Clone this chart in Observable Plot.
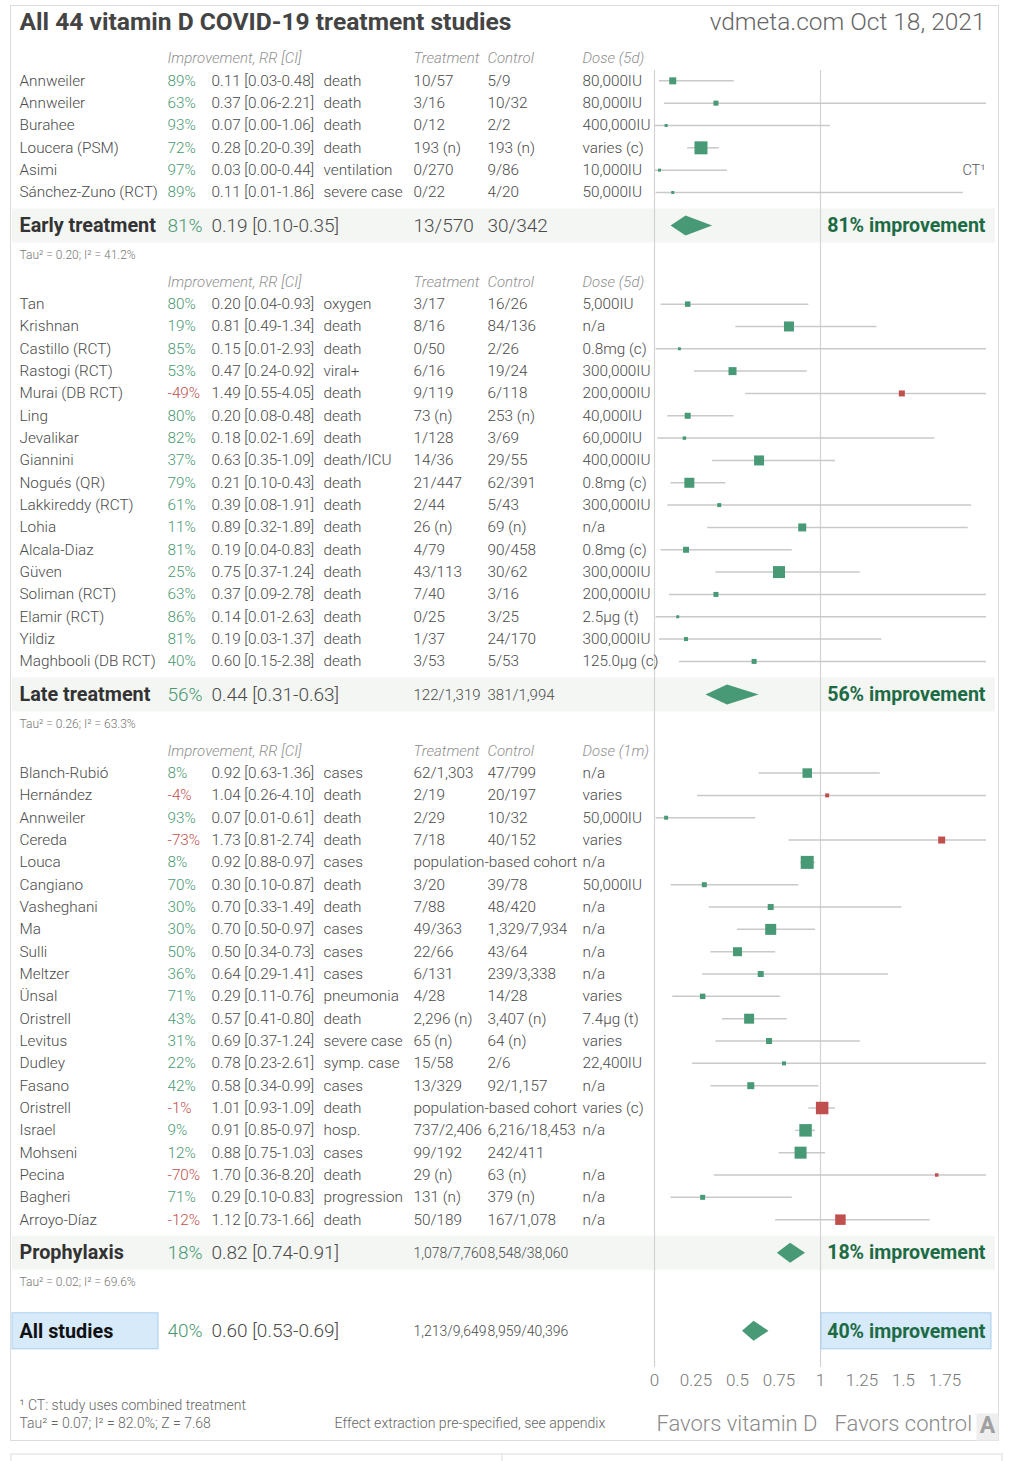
<!DOCTYPE html>
<html>
<head>
<meta charset="utf-8">
<script src="https://cdn.jsdelivr.net/npm/d3@7"></script>
<script src="https://cdn.jsdelivr.net/npm/@observablehq/plot@0.6"></script>
<style>
  body { margin: 0; background: #fff; }
  #chart svg { display: block; }
</style>
</head>
<body>
<div id="chart"></div>
<script>
// ---------------- DATA ----------------
const studies = ["Annweiler","Annweiler","Burahee","Loucera (PSM)","Asimi","Sánchez-Zuno (RCT)",
  "Tan","Krishnan","Castillo (RCT)","Rastogi (RCT)","Murai (DB RCT)","Ling","Jevalikar","Giannini","Nogués (QR)","Lakkireddy (RCT)","Lohia","Alcala-Diaz","Güven","Soliman (RCT)","Elamir (RCT)","Yildiz","Maghbooli (DB RCT)",
  "Blanch-Rubió","Hernández","Annweiler","Cereda","Louca","Cangiano","Vasheghani","Ma","Sulli","Meltzer","Ünsal","Oristrell","Levitus","Dudley","Fasano","Oristrell","Israel","Mohseni","Pecina","Bagheri","Arroyo-Díaz"];
const stage = ["E","E","E","E","E","E",
  "L","L","L","L","L","L","L","L","L","L","L","L","L","L","L","L","L",
  "P","P","P","P","P","P","P","P","P","P","P","P","P","P","P","P","P","P","P","P","P"];
const rr = [0.11,0.37,0.07,0.28,0.03,0.11,
  0.20,0.81,0.15,0.47,1.49,0.20,0.18,0.63,0.21,0.39,0.89,0.19,0.75,0.37,0.14,0.19,0.60,
  0.92,1.04,0.07,1.73,0.92,0.30,0.70,0.70,0.50,0.64,0.29,0.57,0.69,0.78,0.58,1.01,0.91,0.88,1.70,0.29,1.12];
const ciLow = [0.03,0.06,0.00,0.20,0.00,0.01,
  0.04,0.49,0.01,0.24,0.55,0.08,0.02,0.35,0.10,0.08,0.32,0.04,0.37,0.09,0.01,0.03,0.15,
  0.63,0.26,0.01,0.81,0.88,0.10,0.33,0.50,0.34,0.29,0.11,0.41,0.37,0.23,0.34,0.93,0.85,0.75,0.36,0.10,0.73];
const ciHigh = [0.48,2.21,1.06,0.39,0.44,1.86,
  0.93,1.34,2.93,0.92,4.05,0.48,1.69,1.09,0.43,1.91,1.89,0.83,1.24,2.78,2.63,1.37,2.38,
  1.36,4.10,0.61,2.74,0.97,0.87,1.49,0.97,0.73,1.41,0.76,0.80,1.24,2.61,0.99,1.09,0.97,1.03,8.20,0.83,1.66];
const outcome = ["death","death","death","death","ventilation","severe case",
  "oxygen","death","death","viral+","death","death","death","death/ICU","death","death","death","death","death","death","death","death","death",
  "cases","death","death","death","cases","death","death","cases","cases","cases","pneumonia","death","severe case","symp. case","cases","death","hosp.","cases","death","progression","death"];
const treatment = ["10/57","3/16","0/12","193 (n)","0/270","0/22",
  "3/17","8/16","0/50","6/16","9/119","73 (n)","1/128","14/36","21/447","2/44","26 (n)","4/79","43/113","7/40","0/25","1/37","3/53",
  "62/1,303","2/19","2/29","7/18","population-based cohort","3/20","7/88","49/363","22/66","6/131","4/28","2,296 (n)","65 (n)","15/58","13/329","population-based cohort","737/2,406","99/192","29 (n)","131 (n)","50/189"];
const control = ["5/9","10/32","2/2","193 (n)","9/86","4/20",
  "16/26","84/136","2/26","19/24","6/118","253 (n)","3/69","29/55","62/391","5/43","69 (n)","90/458","30/62","3/16","3/25","24/170","5/53",
  "47/799","20/197","10/32","40/152","","39/78","48/420","1,329/7,934","43/64","239/3,338","14/28","3,407 (n)","64 (n)","2/6","92/1,157","","6,216/18,453","242/411","63 (n)","379 (n)","167/1,078"];
const dose = ["80,000IU","80,000IU","400,000IU","varies (c)","10,000IU","50,000IU",
  "5,000IU","n/a","0.8mg (c)","300,000IU","200,000IU","40,000IU","60,000IU","400,000IU","0.8mg (c)","300,000IU","n/a","0.8mg (c)","300,000IU","200,000IU","2.5µg (t)","300,000IU","125.0µg (c)",
  "n/a","varies","50,000IU","varies","n/a","50,000IU","n/a","n/a","n/a","n/a","varies","7.4µg (t)","varies","22,400IU","n/a","varies (c)","n/a","","n/a","n/a","n/a"];
const weight = [49,25,9,169,9,9,
  30,100,9,64,36,36,12,100,100,16,64,36,144,25,9,16,25,
  90,16,16,49,169,25,36,121,81,36,30,100,36,16,49,156,156,144,12,25,110];
const combinedTreatment = [false,false,false,false,true,false].concat(new Array(38).fill(false));

const groupKeys = ["E","L","P"];
const groupNames = ["Early treatment","Late treatment","Prophylaxis"];
const groupRR = [0.19,0.44,0.82];
const groupLow = [0.10,0.31,0.74];
const groupHigh = [0.35,0.63,0.91];
const groupTreatment = ["13/570","122/1,319","1,078/7,760"];
const groupControl = ["30/342","381/1,994","8,548/38,060"];
const groupTau = ["Tau² = 0.20; I² = 41.2%","Tau² = 0.26; I² = 63.3%","Tau² = 0.02; I² = 69.6%"];
const doseHeaders = ["Dose (5d)","Dose (5d)","Dose (1m)"];

const allName = "All studies";
const allRR = 0.60, allLow = 0.53, allHigh = 0.69;
const allTreatment = "1,213/9,649", allControl = "8,959/40,396";
const allStats = "Tau² = 0.07; I² = 82.0%; Z = 7.68";

const tickValues = [0,0.25,0.5,0.75,1,1.25,1.5,1.75];
const tickLabels = ["0","0.25","0.5","0.75","1","1.25","1.5","1.75"];

const title = "All 44 vitamin D COVID-19 treatment studies";
const source = "vdmeta.com Oct 18, 2021";
const footnote = "¹ CT: study uses combined treatment";
const extraction = "Effect extraction pre-specified, see appendix";

// ---------------- LAYOUT ----------------
const W = 1012, H = 1461;
const ROW = 22.33, TOP = 58;
const GREEN = "#489a77", RED = "#c0504d", PCT_GREEN = "#4a9872", DARK_GREEN = "#1c6b45";
const TXT = "#4a4a4a";
const FONT = "Roboto, 'Noto Sans', sans-serif";
const countSizes = [19, 15, 14];

const rows = [], headers = [], summaries = [];
let r = 0;
groupKeys.forEach((g, gi) => {
  headers.push({y: r, dose: doseHeaders[gi]});
  studies.forEach((s, i) => {
    if (stage[i] !== g) return;
    r += 1;
    rows.push({y: r, name: s, rr: rr[i], lo: ciLow[i], hi: ciHigh[i], outcome: outcome[i],
      treatment: treatment[i], control: control[i], dose: dose[i], weight: weight[i], ct: combinedTreatment[i]});
  });
  summaries.push({y: r + 1.5, tauY: r + 2.8, name: groupNames[gi], rr: groupRR[gi], lo: groupLow[gi], hi: groupHigh[gi],
    treatment: groupTreatment[gi], control: groupControl[gi], tau: groupTau[gi], size: countSizes[gi]});
  r += 4;
});
const allRow = {y: r + 1, name: allName, rr: allRR, lo: allLow, hi: allHigh, treatment: allTreatment, control: allControl};

const pct = d => `${Math.round((1 - d.rr) * 100)}%`;
const rrText = d => `${d.rr.toFixed(2)} [${d.lo.toFixed(2)}-${d.hi.toFixed(2)}]`;

const dh = 10 / ROW;
const diamonds = [];
[...summaries, allRow].forEach(s => {
  diamonds.push({id: s.name, x: s.lo, y1: s.y, y2: s.y});
  diamonds.push({id: s.name, x: s.rr, y1: s.y - dh, y2: s.y + dh});
  diamonds.push({id: s.name, x: s.hi, y1: s.y, y2: s.y});
});

const base = {fontFamily: FONT, fill: TXT, fontWeight: 300, textAnchor: "start", lineAnchor: "middle"};
const col = (data, text, dx, opts = {}) =>
  Plot.text(data, {...base, y: "y", text, frameAnchor: "left", dx, fontSize: 15.3, ...opts});
const hdr = {fontStyle: "italic", fill: "#8f8f8f", fontSize: 15};

const plot = Plot.plot({
  width: W, height: H,
  marginLeft: 0, marginRight: 0, marginTop: 0, marginBottom: 0,
  style: {fontFamily: FONT, background: "#fff", overflow: "visible"},
  x: {domain: [0, 2], range: [654, 986], clamp: true, axis: null},
  y: {domain: [0, 60], range: [TOP, TOP + ROW * 60], axis: null},
  r: {type: "sqrt", domain: [0, 169], range: [0, 13 / Math.sqrt(Math.PI)]},
  color: {type: "identity"},
  marks: [
    // outer frames
    Plot.frame({stroke: "#dcdcdc", insetLeft: 10, insetRight: 14, insetTop: 5, insetBottom: 21}),
    Plot.frame({fill: "#dedede", stroke: null, insetLeft: 10, insetRight: 10, insetTop: 1453, insetBottom: 7}),
    Plot.frame({fill: "#dedede", stroke: null, insetLeft: 10, insetRight: 1001, insetTop: 1453, insetBottom: 0}),
    Plot.frame({fill: "#dedede", stroke: null, insetLeft: 501, insetRight: 510, insetTop: 1453, insetBottom: 0}),
    Plot.frame({fill: "#dedede", stroke: null, insetLeft: 1001, insetRight: 10, insetTop: 1453, insetBottom: 0}),
    // summary bands
    Plot.rect(summaries, {y1: d => d.y - 17 / ROW, y2: d => d.y + 17 / ROW, fill: "#f3f6f3", insetLeft: 12, insetRight: 17}),
    // reference lines
    Plot.ruleX([0, 1], {stroke: "#d3d3d3", strokeWidth: 1.2, insetTop: 70, insetBottom: 94}),
    // all studies boxes
    Plot.rect([allRow], {y1: d => d.y - 18 / ROW, y2: d => d.y + 18 / ROW, fill: "#d6eaf9", stroke: "#a9cfee", insetLeft: 12, insetRight: 854}),
    Plot.rect([allRow], {y1: d => d.y - 18 / ROW, y2: d => d.y + 18 / ROW, fill: "#d6eaf9", stroke: "#a9cfee", insetLeft: 821, insetRight: 21}),
    // CI lines & squares
    Plot.ruleY(rows, {y: "y", x1: "lo", x2: "hi", stroke: "#c9c9c9", strokeWidth: 1.5}),
    Plot.dot(rows, {x: "rr", y: "y", r: "weight", symbol: "square", fill: d => d.rr > 1 ? RED : GREEN, stroke: null}),
    // diamonds
    Plot.area(diamonds, {x1: "x", y1: "y1", y2: "y2", z: "id", fill: GREEN}),
    // title
    Plot.text([title], {...base, text: d => d, frameAnchor: "top-left", dx: 19, dy: 22, fontSize: 24.6, fontWeight: 700, fill: "#444"}),
    Plot.text([source], {...base, text: d => d, frameAnchor: "top-right", dx: -27, dy: 22, textAnchor: "end", fontSize: 24.5, fill: "#666"}),
    // headers
    col(headers, () => "Improvement, RR [CI]", 167, hdr),
    col(headers, () => "Treatment", 413, hdr),
    col(headers, () => "Control", 487, hdr),
    col(headers, "dose", 582, hdr),
    // study rows
    col(rows, "name", 19),
    col(rows, pct, 167, {fill: d => d.rr > 1 ? RED : PCT_GREEN}),
    col(rows, rrText, 211),
    col(rows, "outcome", 323),
    col(rows, "treatment", 413),
    col(rows, "control", 487),
    col(rows, "dose", 582),
    Plot.text(rows.filter(d => d.ct), {...base, y: "y", text: () => "CT¹", frameAnchor: "right", dx: -27, textAnchor: "end", fontSize: 14.5, fill: "#555"}),
    // summary rows
    col(summaries, "name", 19, {fontSize: 19.8, fontWeight: 700, fill: "#333"}),
    col(summaries, pct, 167, {fontSize: 19, fill: PCT_GREEN}),
    col(summaries, rrText, 211, {fontSize: 19}),
    col(summaries, "treatment", 413, {fontSize: d => d.size}),
    col(summaries, "control", 487, {fontSize: d => d.size}),
    Plot.text(summaries, {...base, y: "y", text: d => `${pct(d)} improvement`, frameAnchor: "right", dx: -27, textAnchor: "end", fontSize: 19.6, fontWeight: 700, fill: DARK_GREEN}),
    col(summaries, "tau", 19, {y: "tauY", fontSize: 12, fill: "#777"}),
    // all studies row
    col([allRow], "name", 19, {fontSize: 19.8, fontWeight: 700, fill: "#111"}),
    col([allRow], pct, 167, {fontSize: 19, fill: PCT_GREEN}),
    col([allRow], rrText, 211, {fontSize: 19}),
    col([allRow], "treatment", 413, {fontSize: 14}),
    col([allRow], "control", 487, {fontSize: 14}),
    Plot.text([allRow], {...base, y: "y", text: d => `${pct(d)} improvement`, frameAnchor: "right", dx: -27, textAnchor: "end", fontSize: 19.6, fontWeight: 700, fill: DARK_GREEN}),
    // x tick labels
    Plot.text(tickValues, {...base, x: d => d, text: (d, i) => tickLabels[i], frameAnchor: "bottom", dy: -81, textAnchor: "middle", fontSize: 17, fill: "#777"}),
    // favors labels
    Plot.text([1], {...base, x: d => d, text: () => "Favors vitamin D", frameAnchor: "bottom", dy: -38, dx: -3, textAnchor: "end", fontSize: 22, fill: "#8a8a8a"}),
    Plot.text([1], {...base, x: d => d, text: () => "Favors control", frameAnchor: "bottom", dy: -38, dx: 14, textAnchor: "start", fontSize: 22, fill: "#8a8a8a"}),
    // footer
    Plot.text([footnote], {...base, text: d => d, frameAnchor: "bottom-left", dx: 19, dy: -56, fontSize: 14, fill: "#666"}),
    Plot.text([allStats], {...base, text: d => d, frameAnchor: "bottom-left", dx: 19, dy: -38, fontSize: 14, fill: "#666"}),
    Plot.text([extraction], {...base, text: d => d, frameAnchor: "bottom-left", dx: 334, dy: -38, fontSize: 14.1, fill: "#666"}),
    // "A" badge
    Plot.frame({fill: "#eeeeee", stroke: null, insetLeft: 976, insetRight: 14, insetTop: 1413, insetBottom: 21}),
    Plot.text(["A"], {...base, text: d => d, frameAnchor: "bottom-right", dx: -25, dy: -36, textAnchor: "middle", fontSize: 23, fontWeight: 700, fill: "#a0a0a0"})
  ]
});
document.getElementById("chart").appendChild(plot);
</script>
</body>
</html>
